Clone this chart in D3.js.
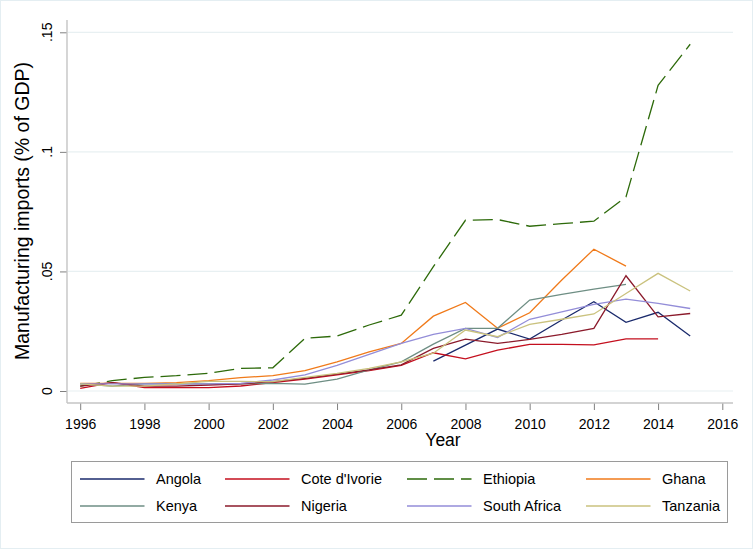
<!DOCTYPE html>
<html>
<head>
<meta charset="utf-8">
<script src="https://cdn.jsdelivr.net/npm/d3@7"></script>
<style>
  body { margin: 0; background: #fff; }
  text { font-family: "Liberation Sans", Arial, sans-serif; fill: #000; }
</style>
</head>
<body>
<div id="chart"></div>
<script>
// data (share of GDP)
var years = d3.range(1996, 2016);
var yTicks = [0, 0.05, 0.1, 0.15];
var yTickLabels = ["0", ".05", ".1", ".15"];
var xTicks = [1996, 1998, 2000, 2002, 2004, 2006, 2008, 2010, 2012, 2014, 2016];

var angola = [null, null, null, null, null, null, null, null, null, null, null,
    0.0125, 0.0192, 0.0259, 0.0217, 0.0297, 0.0373, 0.0287, 0.0329, 0.0230];
var coteDIvoire = [0.0011, 0.0035, 0.0014, 0.0014, 0.0014, 0.0021, 0.0035, 0.0050, 0.0067, 0.0085, 0.0107,
    0.0160, 0.0134, 0.0171, 0.0195, 0.0195, 0.0193, 0.0218, 0.0218, null];
var ethiopia = [0.0020, 0.0043, 0.0057, 0.0064, 0.0074, 0.0095, 0.0097, 0.0220, 0.0230, 0.0276, 0.0317,
    0.0520, 0.0714, 0.0717, 0.0689, 0.0700, 0.0710, 0.0812, 0.1278, 0.1450];
var ghana = [0.0032, 0.0032, 0.0032, 0.0035, 0.0043, 0.0056, 0.0064, 0.0085, 0.0122, 0.0164, 0.0199,
    0.0313, 0.0370, 0.0262, 0.0327, 0.0464, 0.0593, 0.0522, null, null];
var kenya = [0.0030, 0.0020, 0.0030, 0.0030, 0.0030, 0.0030, 0.0032, 0.0029, 0.0050, 0.0088, 0.0122,
    0.0196, 0.0262, 0.0262, 0.0380, 0.0404, 0.0426, 0.0446, null, null];
var nigeria = [0.0020, 0.0035, 0.0020, 0.0020, 0.0025, 0.0030, 0.0039, 0.0053, 0.0071, 0.0088, 0.0109,
    0.0178, 0.0217, 0.0199, 0.0216, 0.0237, 0.0262, 0.0482, 0.0310, 0.0324];
var southAfrica = [0.0030, 0.0030, 0.0030, 0.0030, 0.0030, 0.0032, 0.0046, 0.0067, 0.0107, 0.0153, 0.0199,
    0.0237, 0.0262, 0.0224, 0.0300, 0.0331, 0.0362, 0.0384, 0.0366, 0.0345];
var tanzania = [0.0030, 0.0020, 0.0020, 0.0030, 0.0040, 0.0040, 0.0039, 0.0057, 0.0074, 0.0095, 0.0122,
    0.0158, 0.0255, 0.0227, 0.0279, 0.0300, 0.0322, 0.0408, 0.0492, 0.0418];

var seriesNames = ["Angola", "Cote d'Ivorie", "Ethiopia", "Ghana", "Kenya", "Nigeria", "South Africa", "Tanzania"];
var seriesValues = [angola, coteDIvoire, ethiopia, ghana, kenya, nigeria, southAfrica, tanzania];
var seriesColors = ["#1a2a6c", "#c40f1e", "#2d6a0a", "#f07a1a", "#6e8e84", "#8b1a2b", "#938dd8", "#cac27e"];
var seriesDash = [null, null, "20,7", null, null, null, null, null];

var width = 754, height = 549;

var svg = d3.select("#chart")
    .append("svg")
    .attr("width", width)
    .attr("height", height);

// graph region outline
svg.append("rect")
    .attr("x", 0.5).attr("y", 0.5)
    .attr("width", width - 2).attr("height", height - 1)
    .attr("fill", "white")
    .attr("stroke", "#e4eef2");

var x = d3.scaleLinear().domain([1996, 2016]).range([80.2, 722.3]);
var y = d3.scaleLinear().domain([0, 0.15]).range([391, 32.3]);

// gridlines
svg.append("g")
    .selectAll("line")
    .data(yTicks)
    .enter()
    .append("line")
    .attr("x1", 68).attr("x2", 733)
    .attr("y1", function (d) { return y(d); })
    .attr("y2", function (d) { return y(d); })
    .attr("stroke", "#e8f0f2")
    .attr("stroke-width", 1.2);

// y axis
var yAxis = svg.append("g")
    .attr("transform", "translate(67,0)")
    .call(d3.axisLeft(y).tickValues(yTicks).tickSize(7).tickFormat(function (d, i) { return yTickLabels[i]; }));
yAxis.select(".domain").remove();
yAxis.selectAll(".tick line").attr("stroke", "#808080");
yAxis.selectAll(".tick text").remove();
svg.append("line")
    .attr("x1", 67).attr("x2", 67).attr("y1", 20).attr("y2", 403)
    .attr("stroke", "#c4c4c4").attr("stroke-width", 1.4);

svg.append("g")
    .selectAll("text")
    .data(yTicks)
    .enter()
    .append("text")
    .attr("transform", function (d) { return "translate(52," + y(d) + ") rotate(-90)"; })
    .attr("text-anchor", "middle")
    .attr("font-size", "14px")
    .text(function (d, i) { return yTickLabels[i]; });

// x axis
var xAxis = svg.append("g")
    .attr("transform", "translate(0,403)")
    .call(d3.axisBottom(x).tickValues(xTicks).tickSize(7).tickFormat(d3.format("d")));
xAxis.select(".domain").remove();
xAxis.selectAll(".tick line").attr("stroke", "#808080");
xAxis.selectAll(".tick text")
    .attr("font-size", "14px")
    .attr("font-family", "Liberation Sans, Arial, sans-serif")
    .attr("fill", "#000")
    .attr("dy", "0")
    .attr("y", 25.5);
svg.append("line")
    .attr("x1", 67).attr("x2", 733).attr("y1", 403).attr("y2", 403)
    .attr("stroke", "#c4c4c4").attr("stroke-width", 1.4);

// axis titles
svg.append("text")
    .attr("x", 443).attr("y", 446)
    .attr("text-anchor", "middle")
    .attr("font-size", "17.5px")
    .text("Year");

svg.append("text")
    .attr("transform", "translate(29,211) rotate(-90)")
    .attr("text-anchor", "middle")
    .attr("font-size", "19.5px")
    .text("Manufacturing imports (% of GDP)");

// lines
var line = d3.line()
    .defined(function (d) { return d != null; })
    .x(function (d, i) { return x(years[i]); })
    .y(function (d) { return y(d); });

svg.append("g")
    .selectAll("path")
    .data(seriesValues)
    .enter()
    .append("path")
    .attr("d", line)
    .attr("fill", "none")
    .attr("stroke", function (d, i) { return seriesColors[i]; })
    .attr("stroke-width", 1.3)
    .attr("stroke-dasharray", function (d, i) { return seriesDash[i]; });

// legend
var legend = svg.append("g");
legend.append("rect")
    .attr("x", 71.5).attr("y", 461.5)
    .attr("width", 656).attr("height", 61)
    .attr("fill", "white")
    .attr("stroke", "#9a9a9a");

var colX = [80, 225, 407, 586];
var rowY = [479, 506];

var items = legend.selectAll(".item")
    .data(seriesNames)
    .enter()
    .append("g")
    .attr("class", "item")
    .attr("transform", function (d, i) { return "translate(" + colX[i % 4] + "," + rowY[Math.floor(i / 4)] + ")"; });

items.append("line")
    .attr("x1", 0).attr("x2", 64.5)
    .attr("y1", 0).attr("y2", 0)
    .attr("stroke", function (d, i) { return seriesColors[i]; })
    .attr("stroke-width", 1.3)
    .attr("stroke-dasharray", function (d, i) { return seriesDash[i]; });

items.append("text")
    .attr("x", 76)
    .attr("y", 5)
    .attr("font-size", "14.5px")
    .text(function (d) { return d; });
</script>
</body>
</html>
